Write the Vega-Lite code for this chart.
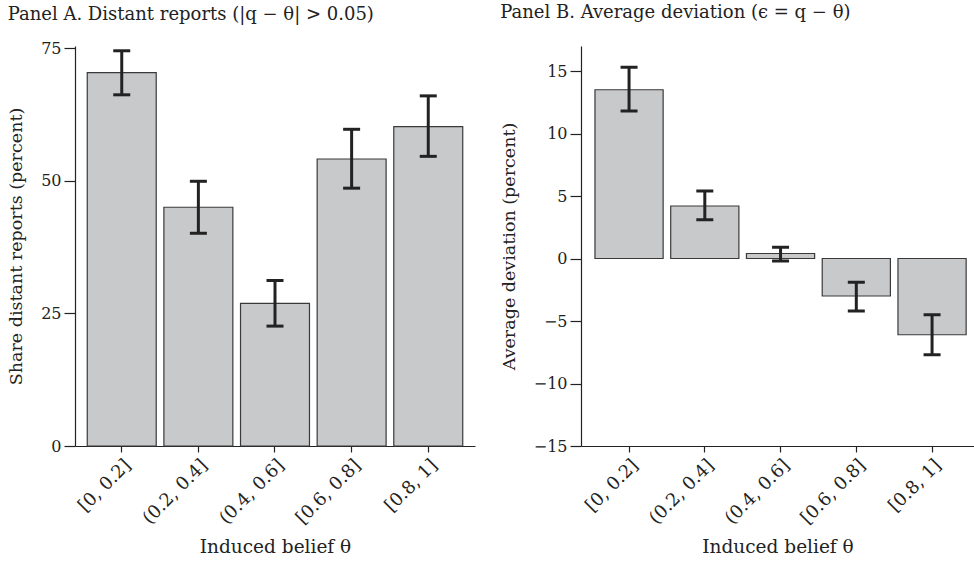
{
  "$schema": "https://vega.github.io/schema/vega-lite/v6.json",
  "background": "white",
  "padding": {"left": 7, "top": 4, "right": 0, "bottom": 5},
  "spacing": 25,
  "config": {
    "font": "DejaVu Serif",
    "view": {"stroke": null},
    "axis": {
      "grid": false,
      "domainColor": "#222",
      "domainWidth": 1.2,
      "tickColor": "#222",
      "tickWidth": 1.2,
      "labelColor": "#222",
      "titleColor": "#222",
      "labelFont": "DejaVu Serif",
      "titleFont": "DejaVu Serif",
      "labelFontSize": 16,
      "titleFontSize": 17.5,
      "titleFontWeight": "normal"
    },
    "title": {"font": "DejaVu Serif", "fontSize": 18, "fontWeight": "normal", "color": "#222", "anchor": "start", "frame": "bounds"}
  },
  "datasets": {
    "a": [
      {"bin": "[0, 0.2]", "value": 70.4, "lo": 66.2, "hi": 74.5},
      {"bin": "(0.2, 0.4]", "value": 45.0, "lo": 40.1, "hi": 49.9},
      {"bin": "(0.4, 0.6]", "value": 26.9, "lo": 22.6, "hi": 31.2},
      {"bin": "[0.6, 0.8]", "value": 54.1, "lo": 48.6, "hi": 59.7},
      {"bin": "[0.8, 1]", "value": 60.2, "lo": 54.6, "hi": 66.0}
    ],
    "b": [
      {"bin": "[0, 0.2]", "value": 13.5, "lo": 11.8, "hi": 15.3},
      {"bin": "(0.2, 0.4]", "value": 4.2, "lo": 3.1, "hi": 5.4},
      {"bin": "(0.4, 0.6]", "value": 0.4, "lo": -0.2, "hi": 0.9},
      {"bin": "[0.6, 0.8]", "value": -3.0, "lo": -4.2, "hi": -1.9},
      {"bin": "[0.8, 1]", "value": -6.1, "lo": -7.7, "hi": -4.5}
    ]
  },
  "hconcat": [
    {
      "width": 400,
      "height": 400,
      "title": {"text": "Panel A. Distant reports (|q − θ| > 0.05)", "offset": 16},
      "data": {"name": "a"},
      "encoding": {
        "x": {
          "field": "bin", "type": "nominal", "sort": null,
          "scale": {"paddingInner": 0.1, "paddingOuter": 0.16},
          "axis": {"labelAngle": -45, "labelFontSize": 18, "tickSize": 6, "labelPadding": 4, "title": "Induced belief θ", "titleFontSize": 18.5, "titlePadding": 10}
        }
      },
      "layer": [
        {
          "mark": {"type": "bar", "fill": "#c8c9cb", "stroke": "#3a3a3a", "strokeWidth": 1.2},
          "encoding": {
            "y": {
              "field": "value", "type": "quantitative",
              "scale": {"domain": [0, 75.4], "nice": false, "zero": true},
              "axis": {"values": [0, 25, 50, 75], "tickSize": 11, "labelPadding": 3, "title": "Share distant reports (percent)", "titlePadding": 15}
            }
          }
        },
        {
          "mark": {"type": "rule", "strokeWidth": 3, "color": "#222"},
          "encoding": {"y": {"field": "lo", "type": "quantitative"}, "y2": {"field": "hi"}}
        },
        {
          "mark": {"type": "tick", "size": 17, "thickness": 3, "color": "#222", "opacity": 1},
          "encoding": {"y": {"field": "lo", "type": "quantitative"}}
        },
        {
          "mark": {"type": "tick", "size": 17, "thickness": 3, "color": "#222", "opacity": 1},
          "encoding": {"y": {"field": "hi", "type": "quantitative"}}
        }
      ]
    },
    {
      "width": 393,
      "height": 400,
      "title": {"text": "Panel B. Average deviation (ϵ = q − θ)", "offset": 24},
      "data": {"name": "b"},
      "encoding": {
        "x": {
          "field": "bin", "type": "nominal", "sort": null,
          "scale": {"paddingInner": 0.1, "paddingOuter": 0.144, "align": 0.64},
          "axis": {"labelAngle": -45, "labelFontSize": 18, "tickSize": 6, "labelPadding": 4, "title": "Induced belief θ", "titleFontSize": 18.5, "titlePadding": 10}
        }
      },
      "layer": [
        {
          "mark": {"type": "bar", "fill": "#c8c9cb", "stroke": "#3a3a3a", "strokeWidth": 1.2},
          "encoding": {
            "y": {
              "field": "value", "type": "quantitative",
              "scale": {"domain": [-15, 17], "nice": false},
              "axis": {"values": [-15, -10, -5, 0, 5, 10, 15], "tickSize": 11, "labelPadding": 3, "title": "Average deviation (percent)", "titlePadding": 15}
            }
          }
        },
        {
          "mark": {"type": "rule", "strokeWidth": 1.2, "color": "#222"},
          "encoding": {"y": {"datum": 0, "type": "quantitative"}}
        },
        {
          "mark": {"type": "rule", "strokeWidth": 3, "color": "#222"},
          "encoding": {"y": {"field": "lo", "type": "quantitative"}, "y2": {"field": "hi"}}
        },
        {
          "mark": {"type": "tick", "size": 17, "thickness": 3, "color": "#222", "opacity": 1},
          "encoding": {"y": {"field": "lo", "type": "quantitative"}}
        },
        {
          "mark": {"type": "tick", "size": 17, "thickness": 3, "color": "#222", "opacity": 1},
          "encoding": {"y": {"field": "hi", "type": "quantitative"}}
        }
      ]
    }
  ]
}
